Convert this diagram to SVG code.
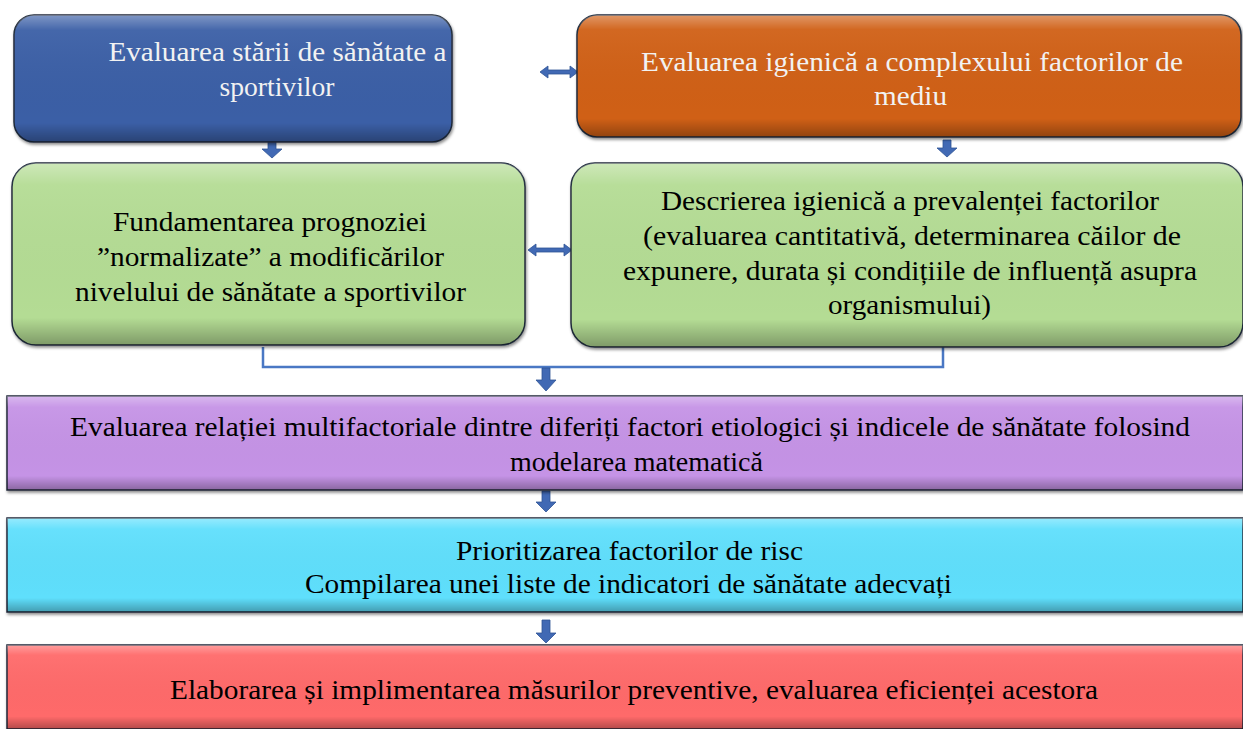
<svg xmlns="http://www.w3.org/2000/svg" width="1243" height="729" viewBox="0 0 1243 729">
<defs>
<style>
.t{font-family:"Liberation Serif","Times New Roman",serif;text-anchor:middle;fill:#000;font-size:27px}
.w{fill:#f2f2f2}
.arr{fill:#4169b4;stroke:#2f5496;stroke-width:0.8}
.ln{stroke:#4a78c4;stroke-width:2.5;fill:none}
.box{stroke:#1f2a3a;stroke-width:1.5}
.hl{fill:url(#shine)}
</style>
<linearGradient id="shine" x1="0" y1="0" x2="0" y2="1">
<stop offset="0" stop-color="#fff" stop-opacity="0.35"/>
<stop offset="0.12" stop-color="#fff" stop-opacity="0.05"/>
<stop offset="0.85" stop-color="#000" stop-opacity="0"/>
<stop offset="1" stop-color="#000" stop-opacity="0.3"/>
</linearGradient>
<filter id="sh" x="-5%" y="-5%" width="110%" height="120%">
<feDropShadow dx="1" dy="2" stdDeviation="1.5" flood-color="#000" flood-opacity="0.45"/>
</filter>
</defs>
<rect width="1243" height="729" fill="#fff"/>

<g id="connectors">
<path class="arr" d="M540,72 l8,-6 v4 h22 v-4 l8,6 l-8,6 v-4 h-22 v4 z"/>
<path class="arr" d="M268,142 h8 v7 h6 l-10,9 l-10,-9 h6 z"/>
<path class="arr" d="M943,140 h8 v8 h6 l-10,9 l-10,-9 h6 z"/>
<path class="arr" d="M528,250 l8,-6 v4 h28 v-4 l8,6 l-8,6 v-4 h-28 v4 z"/>
<path class="ln" d="M263,347 v20 h680 v-20"/>
<path class="arr" d="M542,368 h8 v12 h6 l-10,11 l-10,-11 h6 z"/>
<path class="arr" d="M542,491 h8 v11 h6 l-10,10 l-10,-10 h6 z"/>
<path class="arr" d="M542,620 h8 v13 h6 l-10,10 l-10,-10 h6 z"/>
</g>

<g font-family="Liberation Serif, Times New Roman, serif">
<g id="n1">
<rect class="box" x="14" y="15" width="438" height="127" rx="20" fill="#3a5ea6" filter="url(#sh)"/>
<rect class="hl" x="14" y="15" width="438" height="127" rx="20"/>
<text class="t w" x="277.5" y="61" textLength="338" lengthAdjust="spacingAndGlyphs">Evaluarea stării de sănătate a</text>
<text class="t w" x="277" y="96" textLength="115" lengthAdjust="spacingAndGlyphs">sportivilor</text>
</g>

<g id="n2">
<rect class="box" x="577" y="15" width="664" height="122" rx="20" fill="#d06018" filter="url(#sh)"/>
<rect class="hl" x="577" y="15" width="664" height="122" rx="20"/>
<text class="t w" x="912" y="71" textLength="542" lengthAdjust="spacingAndGlyphs">Evaluarea igienică a complexului factorilor de</text>
<text class="t w" x="910.5" y="105" textLength="73" lengthAdjust="spacingAndGlyphs">mediu</text>
</g>

<g id="n3">
<rect class="box" x="12" y="163" width="513" height="182" rx="24" fill="#b4dc94" filter="url(#sh)"/>
<rect class="hl" x="12" y="163" width="513" height="182" rx="24"/>
<text class="t" x="270" y="231" textLength="314" lengthAdjust="spacingAndGlyphs">Fundamentarea prognoziei</text>
<text class="t" x="270.5" y="266" textLength="347" lengthAdjust="spacingAndGlyphs">”normalizate” a modificărilor</text>
<text class="t" x="270.5" y="301" textLength="391" lengthAdjust="spacingAndGlyphs">nivelului de sănătate a sportivilor</text>
</g>

<g id="n4">
<rect class="box" x="571" y="163" width="672" height="184" rx="24" fill="#b4dc94" filter="url(#sh)"/>
<rect class="hl" x="571" y="163" width="672" height="184" rx="24"/>
<text class="t" x="910" y="210" textLength="498" lengthAdjust="spacingAndGlyphs">Descrierea igienică a prevalenței factorilor</text>
<text class="t" x="912" y="245" textLength="538" lengthAdjust="spacingAndGlyphs">(evaluarea cantitativă, determinarea căilor de</text>
<text class="t" x="910" y="280" textLength="574" lengthAdjust="spacingAndGlyphs">expunere, durata și condițiile de influență asupra</text>
<text class="t" x="909.5" y="314" textLength="163" lengthAdjust="spacingAndGlyphs">organismului)</text>
</g>

<g id="n5">
<rect class="box" x="7" y="396" width="1236" height="94" fill="#c593e6" filter="url(#sh)"/>
<rect class="hl" x="7" y="396" width="1236" height="94"/>
<text class="t" x="630" y="436" textLength="1120" lengthAdjust="spacingAndGlyphs">Evaluarea relației multifactoriale dintre diferiți factori etiologici și indicele de sănătate folosind</text>
<text class="t" x="636.5" y="471" textLength="253" lengthAdjust="spacingAndGlyphs">modelarea matematică</text>
</g>

<g id="n6">
<rect class="box" x="7" y="518" width="1236" height="94" fill="#5edffc" filter="url(#sh)"/>
<rect class="hl" x="7" y="518" width="1236" height="94"/>
<text class="t" x="629.5" y="560" textLength="347" lengthAdjust="spacingAndGlyphs">Prioritizarea factorilor de risc</text>
<text class="t" x="628.5" y="593" textLength="647" lengthAdjust="spacingAndGlyphs">Compilarea unei liste de indicatori de sănătate adecvați</text>
</g>

<g id="n7">
<rect class="box" x="7" y="645" width="1236" height="84" fill="#ff6a6b" filter="url(#sh)"/>
<rect class="hl" x="7" y="645" width="1236" height="84"/>
<text class="t" x="634" y="699" textLength="928" lengthAdjust="spacingAndGlyphs">Elaborarea și implimentarea măsurilor preventive, evaluarea eficienței acestora</text>
</g>
</g>
</svg>
